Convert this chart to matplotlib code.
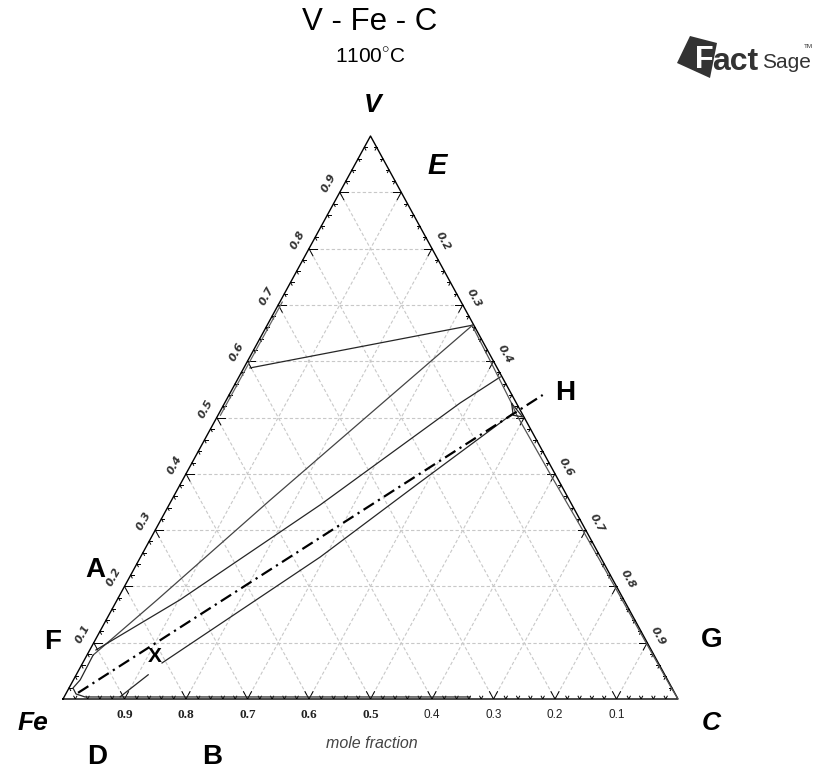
"""V-Fe-C isothermal section at 1100 C, redrawn as a ternary plot."""

import matplotlib

matplotlib.use("Agg")

import matplotlib.pyplot as plt
import numpy as np
from matplotlib.patches import Polygon

W, H = 813, 769

# compositions as (x_V, x_C) mole fractions
tie_v_rich_v = [0.588, 0.664]
tie_v_rich_c = [0.010, 0.334]

bound_upper_v = [0.078, 0.176, 0.353, 0.664]
bound_upper_c = [0.010, 0.065, 0.160, 0.334]

bound_mid_v = [0.087, 0.176, 0.345, 0.526, 0.572]
bound_mid_c = [0.010, 0.102, 0.246, 0.383, 0.425]

bound_low_v = [0.064, 0.252, 0.385, 0.506]
bound_low_c = [0.129, 0.292, 0.388, 0.477]

short_seg_v = [0.004, 0.043]
short_seg_c = [0.091, 0.117]

section_v = [0.011, 0.540]
section_c = [0.019, 0.510]

fe_corner_v = [0.078, 0.034, 0.0195, 0.009, 0.0036, 0.0036]
fe_corner_c = [0.010, 0.011, 0.0065, 0.0166, 0.034, 0.660]

right_edge_v = [0.664, 0.600, 0.525, 0.505, 0.400, 0.300, 0.200, 0.100, 0.020, 0.0]
right_edge_fe = [0.003, 0.005, 0.008, 0.010, 0.008, 0.005, 0.003, 0.002, 0.001, 0.0]

left_edge_v = [0.705, 0.600, 0.504]
left_edge_c = [0.004, 0.004, 0.004]

tri_small_v = [0.525, 0.504, 0.501, 0.525]
tri_small_c = [0.467, 0.480, 0.497, 0.467]

tick_values = [0.1, 0.2, 0.3, 0.4, 0.5, 0.6, 0.7, 0.8, 0.9]
left_labels = ["0.1", "0.2", "0.3", "0.4", "0.5", "0.6", "0.7", "0.8", "0.9"]
right_labels = ["", "0.2", "0.3", "0.4", "", "0.6", "0.7", "0.8", "0.9"]
bottom_labels = ["0.9", "0.8", "0.7", "0.6", "0.5", "0.4", "0.3", "0.2", "0.1"]


def tern(v, c):
    v = np.asarray(v, dtype=float)
    c = np.asarray(c, dtype=float)
    return c + v / 2.0, v


def px(x, y):
    return x / W, 1 - y / H


plt.rcParams["mathtext.fontset"] = "custom"
plt.rcParams["mathtext.rm"] = "Liberation Sans"

fig = plt.figure(figsize=(W / 100, H / 100), dpi=100)
ax = fig.add_axes([63 / W, 70 / H, 615 / W, 563 / H])
ax.set_xlim(0, 1)
ax.set_ylim(0, 1)
ax.axis("off")

# grid
grid_kw = dict(color="#c8c8c8", lw=0.8, dashes=(3, 2), zorder=1)
for t in tick_values:
    ax.plot(*tern([t, t], [0, 1 - t]), **grid_kw)
    ax.plot(*tern([0, 1 - t], [t, t]), **grid_kw)
    ax.plot(*tern([0, 1 - t], [1 - t, 0]), **grid_kw)

# triangle
ax.plot(*tern([0, 0, 1, 0], [0, 1, 0, 0]), color="black", lw=1.0, zorder=3, clip_on=False)

# ticks
for i in range(1, 50):
    t = i * 0.02
    major = i % 5 == 0
    L = 0.013 if major else 0.005
    # bottom edge (V=0, C=t)
    ax.plot(*tern([0, L], [t, t]), color="black", lw=0.7, zorder=3)
    ax.plot(*tern([0, L], [t, t - L]), color="black", lw=0.7, zorder=3)
    # left edge (C=0, V=t)
    ax.plot(*tern([t, t], [0, L]), color="black", lw=0.7, zorder=3)
    ax.plot(*tern([t, t - L], [0, L]), color="black", lw=0.7, zorder=3)
    # right edge (Fe=0, C=t)
    ax.plot(*tern([1 - t, 1 - t], [t, t - L]), color="black", lw=0.7, zorder=3)
    ax.plot(*tern([1 - t, 1 - t - L], [t, t]), color="black", lw=0.7, zorder=3)

# phase boundaries
line_kw = dict(color="#262626", lw=0.9, zorder=4)
ax.plot(*tern(tie_v_rich_v, tie_v_rich_c), **line_kw)
ax.plot(*tern(bound_upper_v, bound_upper_c), color="#444444", lw=0.9, zorder=4)
ax.plot(*tern(bound_mid_v, bound_mid_c), **line_kw)
ax.plot(*tern(bound_low_v, bound_low_c), **line_kw)
ax.plot(*tern(short_seg_v, short_seg_c), **line_kw)
ax.plot(*tern(fe_corner_v, fe_corner_c), **line_kw)
rv = np.array(right_edge_v)
ax.plot(*tern(rv, 1 - rv - np.array(right_edge_fe)), color="#555555", lw=0.9, zorder=4)
ax.plot(*tern(left_edge_v, left_edge_c), color="#666666", lw=0.9, zorder=4)
ax.plot(*tern(tri_small_v, tri_small_c), **line_kw)

ax.plot(*tern(section_v, section_c), color="black", lw=1.6, dashes=(5.5, 2.2, 1, 2.2),
        zorder=5, clip_on=False)

# edge tick labels
for t, lab in zip(tick_values, left_labels):
    x, y = tern(t, 0)
    ax.annotate(lab, (x, y), xytext=(-8, 6.5), textcoords="offset points", rotation=61,
                ha="center", va="center", fontsize=8, style="italic", fontweight="bold",
                color="#333333", family="DejaVu Sans")
for t, lab in zip(tick_values, right_labels):
    x, y = tern(1 - t, t)
    ax.annotate(lab, (x, y), xytext=(8, 5), textcoords="offset points", rotation=-61,
                ha="center", va="center", fontsize=8, style="italic", fontweight="bold",
                color="#333333", family="DejaVu Sans")
for t, lab in zip(tick_values, bottom_labels):
    x, y = tern(0, t)
    serif = float(lab) >= 0.5
    ax.annotate(lab, (x, y), xytext=(0, -11.5), textcoords="offset points",
                ha="center", va="center", fontsize=9.5 if serif else 8.5,
                fontweight="bold" if serif else "normal", color="#222222",
                family="Liberation Serif" if serif else "Liberation Sans")

# titles and labels
sans = ["Liberation Sans", "DejaVu Sans"]
fig.text(*px(370, 22), "V - Fe - C", ha="center", va="center", fontsize=22.5, family=sans)
fig.text(*px(370, 57), r"1100$^{\circ}$C", ha="center", va="center", fontsize=15,
         family=sans)

corner_kw = dict(ha="center", va="center", style="italic", fontweight="bold", family=sans)
fig.text(*px(373, 105), "V", fontsize=19, **corner_kw)
fig.text(*px(437, 166), "E", fontsize=21, **corner_kw)
fig.text(*px(33, 723), "Fe", fontsize=19, **corner_kw)
fig.text(*px(711, 723), "C", fontsize=19, **corner_kw)
fig.text(*px(372, 743), "mole fraction", ha="center", va="center", fontsize=11.5,
         style="italic", color="#444444", family=sans)

pt_kw = dict(ha="center", va="center", fontweight="bold",
             family=["Liberation Sans Narrow", "Liberation Sans", "DejaVu Sans"])
fig.text(*px(95, 570), "A", fontsize=20, **pt_kw)
fig.text(*px(53, 642), "F", fontsize=20, **pt_kw)
fig.text(*px(155, 656), "X", fontsize=15, **pt_kw)
fig.text(*px(97, 757), "D", fontsize=20, **pt_kw)
fig.text(*px(212, 757), "B", fontsize=20, **pt_kw)
fig.text(*px(712, 640), "G", fontsize=20, **pt_kw)
fig.text(*px(565, 393), "H", fontsize=20, **pt_kw)

# FactSage logo
logo = Polygon([px(690, 36), px(717, 43), px(710, 78), px(677, 63)], closed=True,
               transform=fig.transFigure, facecolor="#333333", edgecolor="none")
fig.patches.append(logo)
fig.text(*px(704, 60), "F", ha="center", va="center", fontsize=22, fontweight="bold",
         color="white", family=sans)
fig.text(*px(712, 62), "act", ha="left", va="center", fontsize=23, fontweight="bold",
         color="#333333", family=sans)
fig.text(*px(762, 62), "Sage", ha="left", va="center", fontsize=15, color="#333333",
         family=["Liberation Sans Narrow", "Liberation Sans"])
fig.text(*px(808, 46), "TM", ha="center", va="center", fontsize=4.5, color="#333333",
         family=sans)

fig.savefig("out.png", dpi=100)
